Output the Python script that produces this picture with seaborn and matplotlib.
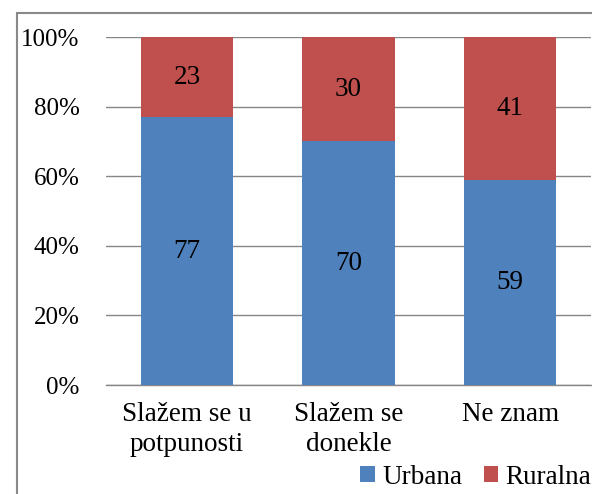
import matplotlib
matplotlib.use("Agg")
import matplotlib.pyplot as plt
import seaborn as sns
from matplotlib.patches import Patch, Rectangle

# Data
categories = ["Slažem se u\npotpunosti", "Slažem se\ndonekle", "Ne znam"]
urbana = [77, 70, 59]
ruralna = [23, 30, 41]
yticks = [0, 20, 40, 60, 80, 100]

blue = "#4F81BD"
red = "#C0504D"
grid_col = "#868686"
fs = 19.5

sns.set_style("white")
plt.rcParams["font.family"] = ["Liberation Serif", "DejaVu Serif"]
plt.rcParams["font.size"] = fs
plt.rcParams["text.color"] = "black"
plt.rcParams["xtick.color"] = "black"
plt.rcParams["ytick.color"] = "black"

fig = plt.figure(figsize=(5.92, 4.94), dpi=100)
ax = fig.add_axes([106 / 592, 1 - 385 / 494, 485 / 592, 348 / 494])

totals = [u + r for u, r in zip(urbana, ruralna)]
sns.barplot(x=categories, y=totals, color=red, width=0.57, ax=ax, saturation=1,
            linewidth=0, edgecolor="none", zorder=2)
sns.barplot(x=categories, y=urbana, color=blue, width=0.57, ax=ax, saturation=1,
            linewidth=0, edgecolor="none", zorder=3)

# value labels
for i, (u, r) in enumerate(zip(urbana, ruralna)):
    ax.text(i, u / 2, str(u), ha="center", va="center", fontsize=fs, color="black", zorder=4)
    ax.text(i, u + r / 2, str(r), ha="center", va="center", fontsize=fs, color="black", zorder=4)

ax.set_xlim(-0.5, 2.5)
ax.set_ylim(0, 100)
ax.set_yticks(yticks)
ax.set_yticklabels([f"{t}%" for t in yticks])
ax.yaxis.grid(True, color=grid_col, linewidth=1, zorder=0)
ax.set_axisbelow(True)
for s in ["left", "right", "top"]:
    ax.spines[s].set_visible(False)
ax.spines["bottom"].set_color(grid_col)
ax.spines["bottom"].set_linewidth(1)
ax.tick_params(axis="y", length=0, pad=19, labelsize=18)
ax.tick_params(axis="x", length=0, pad=12)
for lbl in ax.get_xticklabels():
    lbl.set_linespacing(1.3)
ax.set_xlabel("")
ax.set_ylabel("")

# legend
handles = [Patch(facecolor=blue, edgecolor="none", label="Urbana"),
           Patch(facecolor=red, edgecolor="none", label="Ruralna")]
fig.legend(handles=handles, loc="center right", bbox_to_anchor=(591 / 592, 1 - 477 / 494),
           ncol=2, frameon=False, handlelength=0.55, handleheight=0.55,
           handletextpad=0.25, columnspacing=0.8, borderpad=0, borderaxespad=0,
           fontsize=fs)

# chart border
fig.patches.append(Rectangle((17 / 592, -0.1), 1.2, 1 - 13 / 494 + 0.1,
                             transform=fig.transFigure, fill=False,
                             edgecolor="#898989", linewidth=1.5))

fig.savefig("out.png", dpi=100)
